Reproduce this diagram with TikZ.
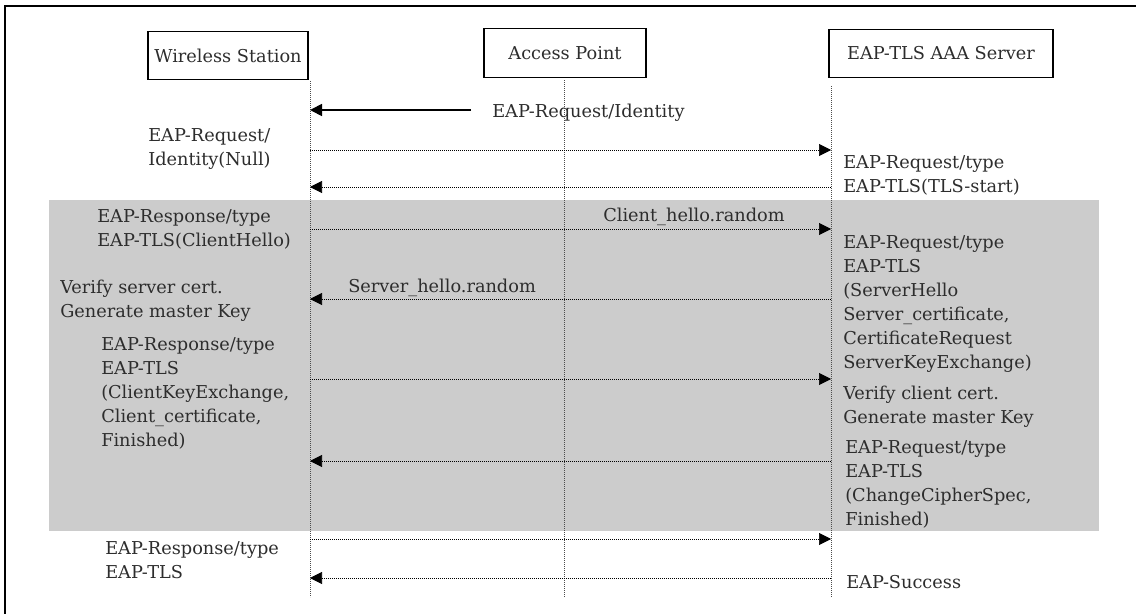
\documentclass[tikz,border=0pt]{standalone}
\usepackage{fontspec}
\setmainfont{DejaVu Serif}
\usepackage{xcolor}
\usetikzlibrary{arrows.meta}
\definecolor{bandgray}{RGB}{204,204,204}
\definecolor{inkgray}{RGB}{45,45,45}
\tikzset{
  actor-box/.style={draw=black, line width=0.9pt, minimum height=36.5pt,
    inner sep=2pt, text=inkgray},
  life-line/.style={draw=black!70, line width=0.5pt, dash pattern=on 0.6pt off 0.9pt},
  msg-arrow/.style={-{Triangle[length=9pt,width=9pt]}, draw=black,
    line width=0.5pt, dash pattern=on 0.6pt off 0.9pt},
  solid-arrow/.style={-{Triangle[length=9pt,width=9pt]}, draw=black, line width=1.3pt},
  note-text/.style={anchor=base west, align=left, inner sep=0pt, text=inkgray},
  phase-band/.style={fill=bandgray, draw=none}
}

\begin{document}
\begin{tikzpicture}[x=0.75pt, y=-0.75pt, font=\fontsize{13.3}{18}\selectfont]
\useasboundingbox (0,0) rectangle (1136,614);
% frame and handshake band
\draw[line width=0.9pt] (5,614) -- (5,6) -- (1136,6);
\fill[phase-band] (49,200) rectangle (1099,531);

% actors
\node[actor-box, minimum width=120pt] (ws) at (228,55.5) {Wireless Station};
\node[actor-box, minimum width=121.5pt] (ap) at (565,53) {Access Point};
\node[actor-box, minimum width=168pt] (srv) at (941,53.5) {EAP-TLS AAA Server};

% life lines
\coordinate (ws-top) at (310,81);
\coordinate (ws-bot) at (310,597);
\coordinate (ap-top) at (564,80);
\coordinate (ap-bot) at (564,597);
\coordinate (srv-top) at (831,86);
\coordinate (srv-bot) at (831,597);
\draw[life-line] (ws-top) -- (ws-bot);
\draw[life-line] (ap-top) -- (ap-bot);
\draw[life-line] (srv-top) -- (srv-bot);

% messages
\foreach \n/\y in {a/150,b/187,c/229,d/299,e/379,f/461,g/539,h/578}{
  \coordinate (ws-\n) at (310,\y);
  \coordinate (srv-\n) at (831,\y);
}
\coordinate (id-src) at (471,110);
\coordinate (ws-id) at (310,110);
\draw[solid-arrow] (id-src) -- (ws-id);
\foreach \n in {a,c,e,g} \draw[msg-arrow] (ws-\n) -- (srv-\n);
\foreach \n in {b,d,f,h} \draw[msg-arrow] (srv-\n) -- (ws-\n);

\node[note-text] (id-lbl) at (492,117) {EAP-Request/Identity};
\node[note-text] (ch-lbl) at (603,221) {Client\_hello.random};
\node[note-text] (sh-lbl) at (348,292) {Server\_hello.random};

% station side (anchored at the last line)
\node[note-text] (st1) at (148,165) {EAP-Request/\\Identity(Null)};
\node[note-text] (st2) at (97,246) {EAP-Response/type\\EAP-TLS(ClientHello)};
\node[note-text] (st3) at (60,317) {Verify server cert.\\Generate master Key};
\node[note-text] (st4) at (101,446) {EAP-Response/type\\EAP-TLS\\(ClientKeyExchange,\\Client\_certificate,\\Finished)};
\node[note-text] (st5) at (105,578) {EAP-Response/type\\EAP-TLS};

% server side
\node[note-text] (sv1) at (843,192) {EAP-Request/type\\EAP-TLS(TLS-start)};
\node[note-text] (sv2) at (843,368) {EAP-Request/type\\EAP-TLS\\(ServerHello\\Server\_certificate,\\CertificateRequest\\ServerKeyExchange)};
\node[note-text] (sv3) at (843,423) {Verify client cert.\\Generate master Key};
\node[note-text] (sv4) at (845,525) {EAP-Request/type\\EAP-TLS\\(ChangeCipherSpec,\\Finished)};
\node[note-text] (sv5) at (846,588) {EAP-Success};
\end{tikzpicture}
\end{document}
